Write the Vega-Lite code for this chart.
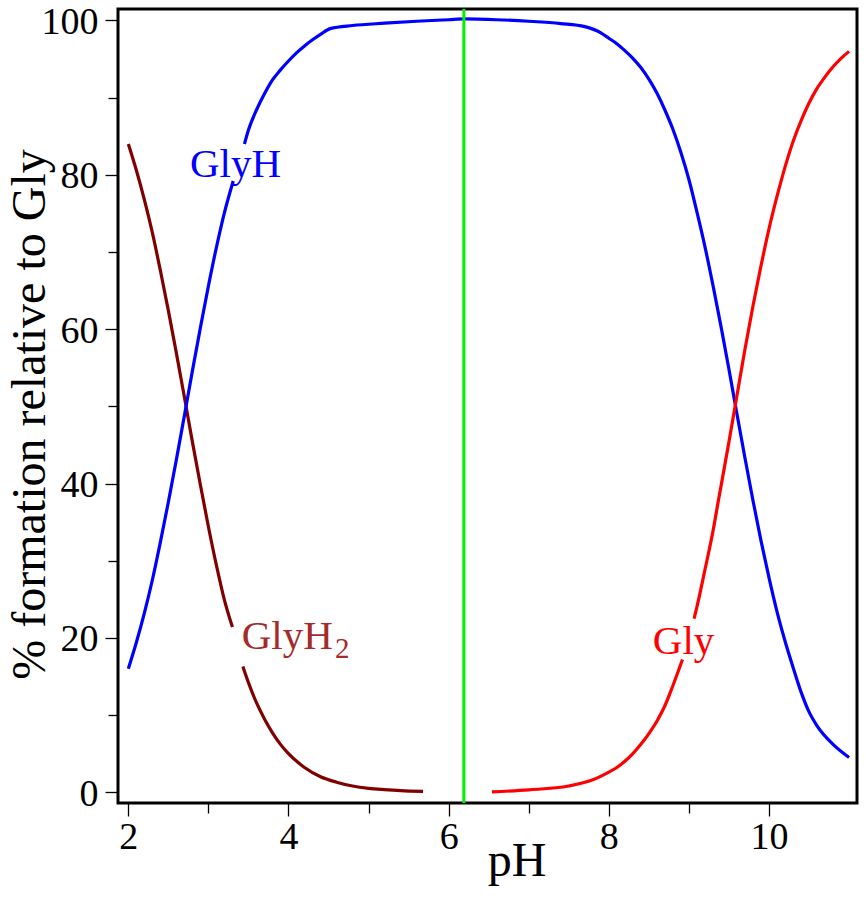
{
  "$schema": "https://vega.github.io/schema/vega-lite/v6.json",
  "width": 739,
  "height": 794,
  "autosize": {"type": "none"},
  "padding": {"left": 118, "top": 9, "right": 9, "bottom": 97},
  "background": "white",
  "config": {
    "view": {"stroke": "black", "strokeWidth": 3},
    "axis": {
      "labelFont": "Liberation Serif",
      "labelFontSize": 38,
      "labelColor": "black",
      "titleFont": "Liberation Serif",
      "titleFontSize": 48,
      "titleFontWeight": "normal",
      "titleColor": "black",
      "tickColor": "black",
      "tickWidth": 1.3,
      "domain": false,
      "grid": false,
      "labelOverlap": false,
      "labelFlush": false
    }
  },
  "datasets": {
    "curves": [
      {"series": "GlyH2", "seg": "a", "pH": 2.0, "pct": 84.0},
      {"series": "GlyH2", "seg": "a", "pH": 2.1, "pct": 80.6},
      {"series": "GlyH2", "seg": "a", "pH": 2.2, "pct": 76.8},
      {"series": "GlyH2", "seg": "a", "pH": 2.3, "pct": 72.5},
      {"series": "GlyH2", "seg": "a", "pH": 2.4, "pct": 67.6},
      {"series": "GlyH2", "seg": "a", "pH": 2.5, "pct": 62.4},
      {"series": "GlyH2", "seg": "a", "pH": 2.6, "pct": 56.9},
      {"series": "GlyH2", "seg": "a", "pH": 2.7, "pct": 51.2},
      {"series": "GlyH2", "seg": "a", "pH": 2.8, "pct": 45.4},
      {"series": "GlyH2", "seg": "a", "pH": 2.9, "pct": 39.8},
      {"series": "GlyH2", "seg": "a", "pH": 3.0, "pct": 34.4},
      {"series": "GlyH2", "seg": "a", "pH": 3.1, "pct": 29.4},
      {"series": "GlyH2", "seg": "a", "pH": 3.2, "pct": 24.9},
      {"series": "GlyH2", "seg": "a", "pH": 3.3, "pct": 21.4},
      {"series": "GlyH2", "seg": "b", "pH": 3.43, "pct": 16.3},
      {"series": "GlyH2", "seg": "b", "pH": 3.5, "pct": 14.2},
      {"series": "GlyH2", "seg": "b", "pH": 3.6, "pct": 11.6},
      {"series": "GlyH2", "seg": "b", "pH": 3.7, "pct": 9.5},
      {"series": "GlyH2", "seg": "b", "pH": 3.8, "pct": 7.7},
      {"series": "GlyH2", "seg": "b", "pH": 3.9, "pct": 6.2},
      {"series": "GlyH2", "seg": "b", "pH": 4.0, "pct": 5.0},
      {"series": "GlyH2", "seg": "b", "pH": 4.2, "pct": 3.2},
      {"series": "GlyH2", "seg": "b", "pH": 4.4, "pct": 2.0},
      {"series": "GlyH2", "seg": "b", "pH": 4.6, "pct": 1.3},
      {"series": "GlyH2", "seg": "b", "pH": 4.8, "pct": 0.8},
      {"series": "GlyH2", "seg": "b", "pH": 5.0, "pct": 0.5},
      {"series": "GlyH2", "seg": "b", "pH": 5.2, "pct": 0.33},
      {"series": "GlyH2", "seg": "b", "pH": 5.4, "pct": 0.2},
      {"series": "GlyH2", "seg": "b", "pH": 5.68, "pct": 0.1},

      {"series": "GlyH", "seg": "a", "pH": 2.0, "pct": 16.0},
      {"series": "GlyH", "seg": "a", "pH": 2.1, "pct": 19.4},
      {"series": "GlyH", "seg": "a", "pH": 2.2, "pct": 23.2},
      {"series": "GlyH", "seg": "a", "pH": 2.3, "pct": 27.5},
      {"series": "GlyH", "seg": "a", "pH": 2.4, "pct": 32.4},
      {"series": "GlyH", "seg": "a", "pH": 2.5, "pct": 37.6},
      {"series": "GlyH", "seg": "a", "pH": 2.6, "pct": 43.1},
      {"series": "GlyH", "seg": "a", "pH": 2.7, "pct": 48.8},
      {"series": "GlyH", "seg": "a", "pH": 2.8, "pct": 54.6},
      {"series": "GlyH", "seg": "a", "pH": 2.9, "pct": 60.2},
      {"series": "GlyH", "seg": "a", "pH": 3.0, "pct": 65.6},
      {"series": "GlyH", "seg": "a", "pH": 3.1, "pct": 70.6},
      {"series": "GlyH", "seg": "a", "pH": 3.2, "pct": 75.1},
      {"series": "GlyH", "seg": "a", "pH": 3.31, "pct": 79.2},
      {"series": "GlyH", "seg": "b", "pH": 3.45, "pct": 84.0},
      {"series": "GlyH", "seg": "b", "pH": 3.5, "pct": 85.8},
      {"series": "GlyH", "seg": "b", "pH": 3.6, "pct": 88.4},
      {"series": "GlyH", "seg": "b", "pH": 3.7, "pct": 90.5},
      {"series": "GlyH", "seg": "b", "pH": 3.8, "pct": 92.3},
      {"series": "GlyH", "seg": "b", "pH": 3.9, "pct": 93.6},
      {"series": "GlyH", "seg": "b", "pH": 4.0, "pct": 94.75},
      {"series": "GlyH", "seg": "b", "pH": 4.1, "pct": 95.8},
      {"series": "GlyH", "seg": "b", "pH": 4.2, "pct": 96.7},
      {"series": "GlyH", "seg": "b", "pH": 4.3, "pct": 97.5},
      {"series": "GlyH", "seg": "b", "pH": 4.4, "pct": 98.2},
      {"series": "GlyH", "seg": "b", "pH": 4.52, "pct": 98.95},
      {"series": "GlyH", "seg": "b", "pH": 4.8, "pct": 99.35},
      {"series": "GlyH", "seg": "b", "pH": 5.2, "pct": 99.65},
      {"series": "GlyH", "seg": "b", "pH": 5.6, "pct": 99.9},
      {"series": "GlyH", "seg": "b", "pH": 6.0, "pct": 100.1},
      {"series": "GlyH", "seg": "b", "pH": 6.2, "pct": 100.2},
      {"series": "GlyH", "seg": "b", "pH": 6.6, "pct": 100.1},
      {"series": "GlyH", "seg": "b", "pH": 7.0, "pct": 99.9},
      {"series": "GlyH", "seg": "b", "pH": 7.4, "pct": 99.6},
      {"series": "GlyH", "seg": "b", "pH": 7.7, "pct": 99.2},
      {"series": "GlyH", "seg": "b", "pH": 7.9, "pct": 98.4},
      {"series": "GlyH", "seg": "b", "pH": 8.0, "pct": 97.7},
      {"series": "GlyH", "seg": "b", "pH": 8.1, "pct": 97.0},
      {"series": "GlyH", "seg": "b", "pH": 8.2, "pct": 96.1},
      {"series": "GlyH", "seg": "b", "pH": 8.3, "pct": 95.1},
      {"series": "GlyH", "seg": "b", "pH": 8.4, "pct": 93.9},
      {"series": "GlyH", "seg": "b", "pH": 8.5, "pct": 92.4},
      {"series": "GlyH", "seg": "b", "pH": 8.6, "pct": 90.6},
      {"series": "GlyH", "seg": "b", "pH": 8.7, "pct": 88.4},
      {"series": "GlyH", "seg": "b", "pH": 8.8, "pct": 85.9},
      {"series": "GlyH", "seg": "b", "pH": 8.9, "pct": 82.9},
      {"series": "GlyH", "seg": "b", "pH": 9.0, "pct": 79.4},
      {"series": "GlyH", "seg": "b", "pH": 9.1, "pct": 75.2},
      {"series": "GlyH", "seg": "b", "pH": 9.2, "pct": 70.7},
      {"series": "GlyH", "seg": "b", "pH": 9.3, "pct": 65.7},
      {"series": "GlyH", "seg": "b", "pH": 9.4, "pct": 60.4},
      {"series": "GlyH", "seg": "b", "pH": 9.5, "pct": 54.8},
      {"series": "GlyH", "seg": "b", "pH": 9.6, "pct": 49.0},
      {"series": "GlyH", "seg": "b", "pH": 9.7, "pct": 43.3},
      {"series": "GlyH", "seg": "b", "pH": 9.8, "pct": 37.8},
      {"series": "GlyH", "seg": "b", "pH": 9.9, "pct": 32.6},
      {"series": "GlyH", "seg": "b", "pH": 10.0, "pct": 27.8},
      {"series": "GlyH", "seg": "b", "pH": 10.1, "pct": 23.4},
      {"series": "GlyH", "seg": "b", "pH": 10.2, "pct": 19.6},
      {"series": "GlyH", "seg": "b", "pH": 10.3, "pct": 16.2},
      {"series": "GlyH", "seg": "b", "pH": 10.4, "pct": 13.0},
      {"series": "GlyH", "seg": "b", "pH": 10.5, "pct": 10.4},
      {"series": "GlyH", "seg": "b", "pH": 10.6, "pct": 8.6},
      {"series": "GlyH", "seg": "b", "pH": 10.8, "pct": 6.2},
      {"series": "GlyH", "seg": "b", "pH": 11.0, "pct": 4.5},

      {"series": "Gly", "seg": "a", "pH": 6.54, "pct": 0.05},
      {"series": "Gly", "seg": "a", "pH": 7.0, "pct": 0.3},
      {"series": "Gly", "seg": "a", "pH": 7.5, "pct": 0.8},
      {"series": "Gly", "seg": "a", "pH": 7.8, "pct": 1.6},
      {"series": "Gly", "seg": "a", "pH": 8.0, "pct": 2.6},
      {"series": "Gly", "seg": "a", "pH": 8.1, "pct": 3.2},
      {"series": "Gly", "seg": "a", "pH": 8.2, "pct": 4.0},
      {"series": "Gly", "seg": "a", "pH": 8.3, "pct": 5.0},
      {"series": "Gly", "seg": "a", "pH": 8.4, "pct": 6.2},
      {"series": "Gly", "seg": "a", "pH": 8.5, "pct": 7.6},
      {"series": "Gly", "seg": "a", "pH": 8.6, "pct": 9.2},
      {"series": "Gly", "seg": "a", "pH": 8.7, "pct": 11.2},
      {"series": "Gly", "seg": "a", "pH": 8.8, "pct": 13.8},
      {"series": "Gly", "seg": "a", "pH": 8.92, "pct": 17.2},
      {"series": "Gly", "seg": "b", "pH": 9.065, "pct": 22.5},
      {"series": "Gly", "seg": "b", "pH": 9.1, "pct": 24.0},
      {"series": "Gly", "seg": "b", "pH": 9.2, "pct": 28.8},
      {"series": "Gly", "seg": "b", "pH": 9.3, "pct": 33.8},
      {"series": "Gly", "seg": "b", "pH": 9.377, "pct": 38.3},
      {"series": "Gly", "seg": "b", "pH": 9.4, "pct": 39.6},
      {"series": "Gly", "seg": "b", "pH": 9.5, "pct": 45.4},
      {"series": "Gly", "seg": "b", "pH": 9.6, "pct": 51.4},
      {"series": "Gly", "seg": "b", "pH": 9.7, "pct": 57.4},
      {"series": "Gly", "seg": "b", "pH": 9.8, "pct": 63.0},
      {"series": "Gly", "seg": "b", "pH": 9.9, "pct": 68.2},
      {"series": "Gly", "seg": "b", "pH": 10.0, "pct": 73.0},
      {"series": "Gly", "seg": "b", "pH": 10.1, "pct": 77.2},
      {"series": "Gly", "seg": "b", "pH": 10.2, "pct": 81.0},
      {"series": "Gly", "seg": "b", "pH": 10.3, "pct": 84.3},
      {"series": "Gly", "seg": "b", "pH": 10.4, "pct": 87.0},
      {"series": "Gly", "seg": "b", "pH": 10.5, "pct": 89.3},
      {"series": "Gly", "seg": "b", "pH": 10.6, "pct": 91.2},
      {"series": "Gly", "seg": "b", "pH": 10.7, "pct": 92.7},
      {"series": "Gly", "seg": "b", "pH": 10.8, "pct": 94.0},
      {"series": "Gly", "seg": "b", "pH": 10.9, "pct": 95.1},
      {"series": "Gly", "seg": "b", "pH": 11.0, "pct": 96.0}
    ],
    "labels": [
      {"series": "GlyH", "text": "GlyH", "pH": 2.77, "pct": 79.7, "role": "main"},
      {"series": "GlyH2", "text": "GlyH", "pH": 3.416, "pct": 18.5, "role": "main"},
      {"series": "Gly", "text": "Gly", "pH": 8.549, "pct": 17.9, "role": "main"},
      {"series": "GlyH2", "text": "2", "pH": 4.581, "pct": 17.4, "role": "sub"}
    ],
    "marker": [{"pH": 6.19}]
  },
  "resolve": {"scale": {"color": "independent"}},
  "layer": [
    {
      "data": {"name": "curves"},
      "mark": {"type": "line", "strokeWidth": 3.2, "interpolate": "monotone"},
      "encoding": {
        "x": {
          "field": "pH", "type": "quantitative",
          "scale": {"domain": [1.871, 11.099], "nice": false, "zero": false},
          "axis": {
            "values": [2, 3, 4, 5, 6, 7, 8, 9, 10],
            "format": "d",
            "labelExpr": "datum.value % 2 === 0 ? datum.label : ''",
            "tickSize": {"condition": {"test": "datum.value % 2 === 0", "value": 13}, "value": 10},
            "labelPadding": 2,
            "title": "pH",
            "titleX": 398.5,
            "titleY": 72,
            "titleAlign": "center",
            "titleBaseline": "alphabetic"
          }
        },
        "y": {
          "field": "pct", "type": "quantitative",
          "scale": {"domain": [-1.4, 101.49], "nice": false, "zero": false},
          "axis": {
            "values": [0, 10, 20, 30, 40, 50, 60, 70, 80, 90, 100],
            "format": "d",
            "labelExpr": "datum.value % 20 === 0 ? datum.label : ''",
            "tickSize": {"condition": {"test": "datum.value % 20 === 0", "value": 13}, "value": 10},
            "labelPadding": 7,
            "labelOffset": 2,
            "title": "% formation relative to Gly",
            "titleAngle": -90,
            "titleX": -74,
            "titleY": 405,
            "titleAlign": "center",
            "titleBaseline": "alphabetic"
          }
        },
        "color": {
          "field": "series", "type": "nominal",
          "scale": {"domain": ["GlyH2", "GlyH", "Gly"], "range": ["#800000", "#0000ff", "#ff0000"]},
          "legend": null
        },
        "detail": {"field": "seg"}
      }
    },
    {
      "data": {"name": "marker"},
      "mark": {"type": "rule", "color": "#00f000", "strokeWidth": 3},
      "encoding": {"x": {"field": "pH", "type": "quantitative"}}
    },
    {
      "data": {"name": "labels"},
      "transform": [{"filter": "datum.role === 'main'"}],
      "mark": {"type": "text", "font": "Liberation Serif", "fontSize": 41, "align": "left", "baseline": "alphabetic"},
      "encoding": {
        "x": {"field": "pH", "type": "quantitative"},
        "y": {"field": "pct", "type": "quantitative"},
        "text": {"field": "text"},
        "color": {
          "field": "series", "type": "nominal",
          "scale": {"domain": ["GlyH2", "GlyH", "Gly"], "range": ["#a52a2a", "#0000ff", "#ff0000"]},
          "legend": null
        }
      }
    },
    {
      "data": {"name": "labels"},
      "transform": [{"filter": "datum.role === 'sub'"}],
      "mark": {"type": "text", "font": "Liberation Serif", "fontSize": 29, "align": "left", "baseline": "alphabetic", "color": "#a52a2a"},
      "encoding": {
        "x": {"field": "pH", "type": "quantitative"},
        "y": {"field": "pct", "type": "quantitative"},
        "text": {"field": "text"}
      }
    }
  ]
}
